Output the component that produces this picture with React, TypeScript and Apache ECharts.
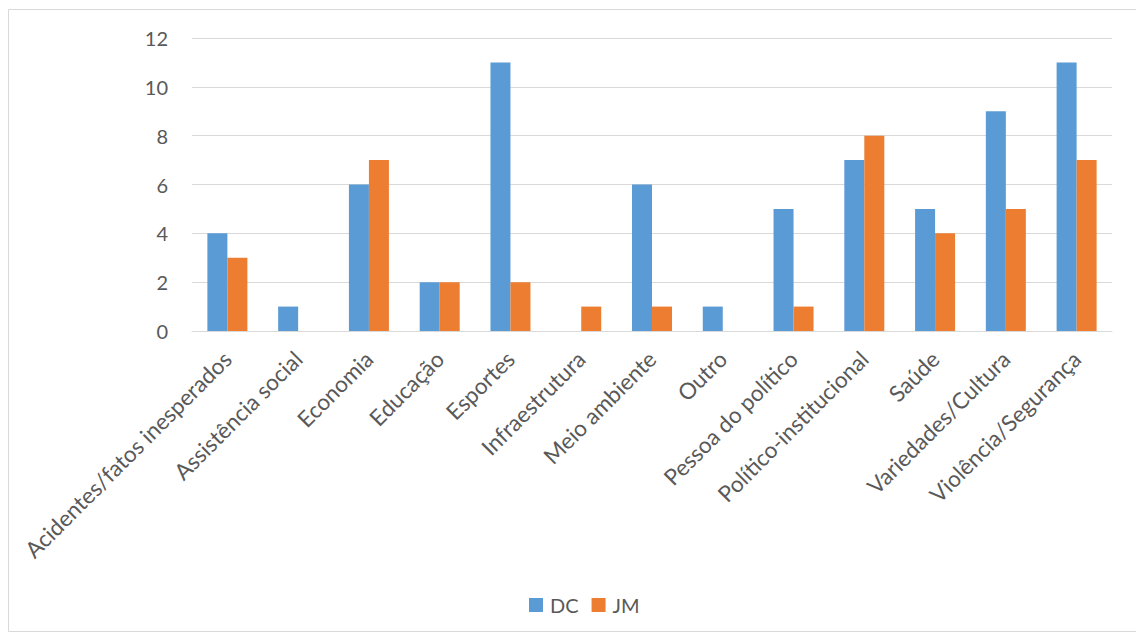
import React, { useEffect, useRef } from "react";
import * as echarts from "echarts";

const categories = [
  "Acidentes/fatos inesperados",
  "Assistência social",
  "Economia",
  "Educação",
  "Esportes",
  "Infraestrutura",
  "Meio ambiente",
  "Outro",
  "Pessoa do político",
  "Político-institucional",
  "Saúde",
  "Variedades/Cultura",
  "Violência/Segurança",
];
const dcValues = [4, 1, 6, 2, 11, 0, 6, 1, 5, 7, 5, 9, 11];
const jmValues = [3, 0, 7, 2, 2, 1, 1, 0, 1, 8, 4, 5, 7];

const FONT = "Lato, 'Open Sans', sans-serif";

export default function App() {
  const ref = useRef<HTMLDivElement>(null);
  useEffect(() => {
    if (!ref.current) return;
    const chart = echarts.init(ref.current, undefined, { renderer: "svg" });
    chart.setOption({
      animation: false,
      backgroundColor: "#ffffff",
      textStyle: { fontFamily: FONT },
      graphic: [
        {
          type: "rect",
          shape: { x: 8.5, y: 9.5, width: 1140, height: 622 },
          style: { fill: "none", stroke: "#d9d9d9", lineWidth: 1 },
          silent: true,
        },
      ],
      legend: {
        bottom: 15,
        left: 524,
        itemWidth: 14,
        itemHeight: 14,
        itemGap: 13,
        icon: "rect",
        textStyle: {
          fontSize: 20,
          color: "#595959",
          fontFamily: FONT,
          padding: [0, 0, 0, 2],
        },
        data: ["DC", "JM"],
      },
      grid: { left: 192, right: 24, top: 38, bottom: 304 },
      xAxis: {
        type: "category",
        data: categories,
        axisLine: { lineStyle: { color: "#d9d9d9", width: 1 } },
        axisTick: { show: false },
        axisLabel: {
          rotate: 45,
          interval: 0,
          margin: 24,
          fontSize: 22.5,
          color: "#595959",
          fontFamily: FONT,
        },
      },
      yAxis: {
        type: "value",
        min: 0,
        max: 12,
        interval: 2,
        axisLine: { show: false },
        axisTick: { show: false },
        splitLine: { lineStyle: { color: "#d9d9d9", width: 1 } },
        axisLabel: { fontSize: 20, color: "#595959", margin: 24, fontFamily: FONT },
      },
      series: [
        {
          name: "DC",
          type: "bar",
          data: dcValues,
          barWidth: 20,
          barGap: "0%",
          itemStyle: { color: "#5B9BD5" },
        },
        {
          name: "JM",
          type: "bar",
          data: jmValues,
          barWidth: 20,
          barGap: "0%",
          itemStyle: { color: "#ED7D31" },
        },
      ],
    });
    return () => chart.dispose();
  }, []);
  return (
    <div
      ref={ref}
      style={{ position: "absolute", left: 0, top: 0, width: 1136, height: 635 }}
    />
  );
}
